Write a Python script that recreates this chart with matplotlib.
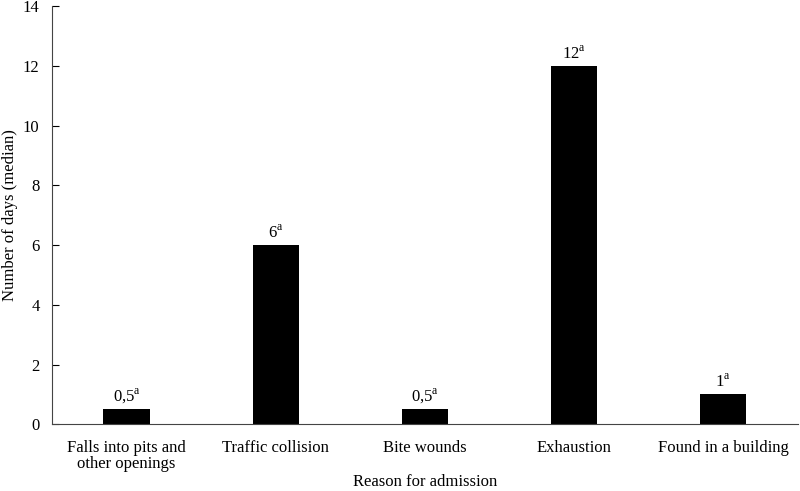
import numpy as np
import matplotlib
matplotlib.use('Agg')
import matplotlib.pyplot as plt

plt.rcParams['font.family'] = 'Liberation Serif'
plt.rcParams['mathtext.fontset'] = 'custom'
plt.rcParams['mathtext.rm'] = 'Liberation Serif'

categories = ['Falls into pits and\nother openings', 'Traffic collision',
              'Bite wounds', 'Exhaustion', 'Found in a building']
medians = [0.5, 6, 0.5, 12, 1]
labels = ['0,5', '6', '0,5', '12', '1']

fs = 12

fig = plt.figure(figsize=[8, 4.91], dpi=100)
ax = fig.add_axes([0.065, 0.136, 0.932, 0.851])

x = np.arange(len(categories))
ax.bar(x, medians, width=0.31, color='black')
for xi, v, lab in zip(x, medians, labels):
    ax.text(xi, v + 0.12, lab + r'$^{\mathrm{a}}$', ha='center', va='bottom', fontsize=fs)

ax.set_xlim(-0.5, 4.5)
ax.set_ylim(0, 14)
ax.set_yticks(range(0, 15, 2))
ax.set_xticks(x)
ax.set_xticklabels(categories, fontsize=fs, linespacing=1.0)
ax.tick_params(axis='x', length=0, pad=11)
ax.tick_params(axis='y', direction='in', length=5, labelsize=fs, pad=9)
ax.spines['top'].set_visible(False)
ax.spines['right'].set_visible(False)
ax.spines['left'].set_color('#444444')
ax.spines['bottom'].set_color('#444444')
ax.set_ylabel('Number of days (median)', fontsize=fs)
ax.yaxis.set_label_coords(-0.046, 0.5)
ax.set_xlabel('Reason for admission', fontsize=fs, labelpad=1.5)

plt.savefig('out.png', dpi=100)
